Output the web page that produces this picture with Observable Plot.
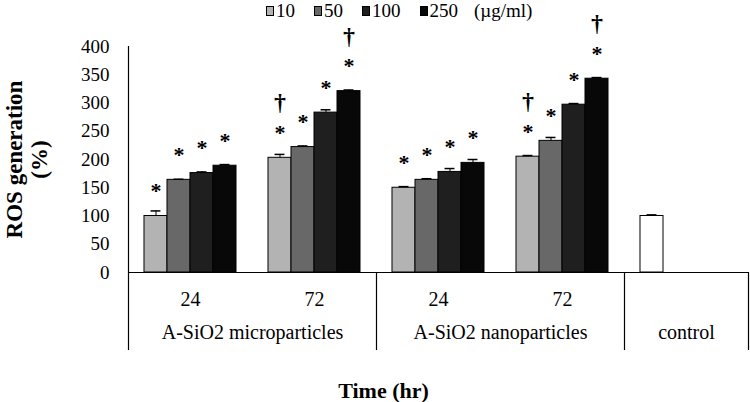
<!DOCTYPE html>
<html><head><meta charset="utf-8">
<script src="https://cdn.jsdelivr.net/npm/d3@7"></script>
<script src="https://cdn.jsdelivr.net/npm/@observablehq/plot@0.6"></script>
<style>
body{margin:0;background:#fff;}
#wrap{position:relative;width:750px;height:402px;font-family:"Liberation Serif",serif;color:#000;}
#legend{position:absolute;top:0;left:266px;display:flex;align-items:center;height:22px;font-size:19px;z-index:2;}
.item{display:flex;align-items:center;margin-right:19px;}
.sw{width:6px;height:8px;border:1px solid #000;margin-right:2px;}
svg text{font-family:"Liberation Serif",serif;}
</style></head><body>
<div id="wrap"><div id="legend"></div></div>
<script>
// ---- data ----
const doses = ["10", "50", "100", "250"];
const doseColors = ["#b3b3b3", "#686868", "#1f1f1f", "#080808"];
const unitLabel = "(µg/ml)";
const timeLabels = ["24", "72", "24", "72"];
const groupLabels = ["A-SiO2 microparticles", "A-SiO2 nanoparticles", "control"];
const groupSpans = [[0, 2], [2, 4], [4, 5]]; // category index ranges
const yTicks = [0, 50, 100, 150, 200, 250, 300, 350, 400];

const micro24 = [100, 164, 176, 189];
const micro72 = [203, 222, 283, 321];
const nano24 = [150, 164, 178, 194];
const nano72 = [205, 233, 297, 343];
const control = [100];

const micro24Err = [9, 1, 2, 2];
const micro72Err = [6, 2, 5, 2];
const nano24Err = [2, 2, 6, 6];
const nano72Err = [2, 6, 2, 2];
const controlErr = [2];

// dagger annotations: category index and dose
const daggerCats = [1, 1, 3, 3];
const daggerDoses = ["10", "250", "10", "250"];

// ---- build table ----
const gap = 0.258, pad = gap / 2, slot = (1 - gap) / 4, cap = 0.04;
const series = [micro24, micro72, nano24, nano72];
const errs = [micro24Err, micro72Err, nano24Err, nano72Err];
const rows = [];
series.forEach((vals, i) => vals.forEach((v, j) => rows.push({cat: i, slot: j, dose: doses[j], value: v, err: errs[i][j]})));
rows.push({cat: 4, slot: 0, dose: "control", value: control[0], err: controlErr[0]});
const x1 = d => d.cat + pad + d.slot * slot;
const x2 = d => x1(d) + slot;
const xc = d => x1(d) + slot / 2;
const treated = rows.filter(d => d.dose !== "control");
const daggers = daggerCats.map((c, k) => rows.find(d => d.cat === c && d.dose === daggerDoses[k]));
const boundaries = groupSpans.flat().filter((v, i, a) => a.indexOf(v) === i);

// ---- legend ----
const lg = document.getElementById("legend");
doses.forEach((d, i) => {
  const it = document.createElement("div"); it.className = "item";
  if (i === doses.length - 1) it.style.marginRight = "16px";
  const sw = document.createElement("div"); sw.className = "sw"; sw.style.background = doseColors[i];
  const t = document.createElement("span"); t.textContent = d;
  it.append(sw, t); lg.append(it);
});
const u = document.createElement("span"); u.textContent = unitLabel; lg.append(u);

// ---- chart ----
const chart = Plot.plot({
  width: 750, height: 402,
  marginLeft: 128, marginRight: 2, marginTop: 46, marginBottom: 130,
  style: {fontFamily: "Liberation Serif", fontSize: "19px", background: "white", color: "#000"},
  x: {type: "linear", domain: [0, 5], axis: null},
  y: {domain: [0, 400], axis: null},
  color: {domain: [...doses, "control"], range: [...doseColors, "#ffffff"]},
  marks: [
    Plot.axisY({ticks: yTicks, tickSize: 0, tickPadding: 19, fontSize: 19, fontFamily: "Liberation Serif", fontVariant: "normal", label: null}),
    Plot.rectY(rows, {x1, x2, y1: 0, y2: "value", fill: "dose", stroke: "#000", strokeWidth: 1}),
    Plot.ruleX(rows, {x: xc, y1: "value", y2: d => d.value + d.err, stroke: "#000", strokeWidth: 1}),
    Plot.ruleY(rows, {y: d => d.value + d.err, x1: d => xc(d) - cap, x2: d => xc(d) + cap, stroke: "#000", strokeWidth: 1.5}),
    Plot.ruleY([0], {stroke: "#000", strokeWidth: 1.2}),
    Plot.ruleX([0], {stroke: "#000", strokeWidth: 1.2}),
    Plot.ruleX(boundaries, {y1: 0, y2: 0, insetBottom: -78, stroke: "#000", strokeWidth: 1.2}),
    Plot.text(timeLabels, {x: (d, i) => i + 0.5, frameAnchor: "bottom", lineAnchor: "middle", dy: 27, fontSize: 20}),
    Plot.text(groupLabels, {x: (d, i) => (groupSpans[i][0] + groupSpans[i][1]) / 2, frameAnchor: "bottom", lineAnchor: "middle", dy: 60, fontSize: 20}),
    Plot.text(treated, {x: xc, y: "value", text: () => "*", dy: -25, fontSize: 22, fontWeight: "bold"}),
    Plot.text(daggers, {x: xc, y: "value", text: () => "†", dy: -55, fontSize: 24, fontWeight: "bold"}),
    Plot.text(["ROS generation\n(%)"], {frameAnchor: "left", textAnchor: "middle", lineAnchor: "middle", dx: -102, rotate: -90, fontSize: 23, fontWeight: "bold", lineHeight: 1.1}),
    Plot.text(["Time (hr)"], {frameAnchor: "bottom", lineAnchor: "middle", dx: -55, dy: 118, fontSize: 22, fontWeight: "bold"})
  ]
});
document.getElementById("wrap").append(chart);
</script>
</body></html>
